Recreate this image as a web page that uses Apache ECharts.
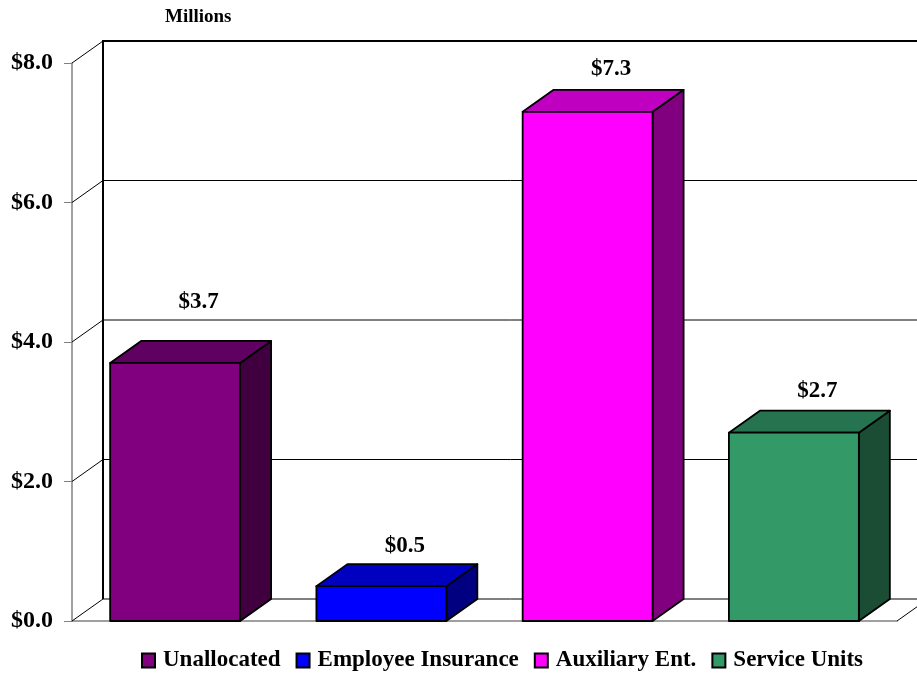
<!DOCTYPE html>
<html>
<head>
<meta charset="utf-8">
<script src="https://cdn.jsdelivr.net/npm/echarts@6/dist/echarts.min.js"></script>
<style>
html,body{margin:0;padding:0;background:#fff;}
#chart{width:917px;height:674px;}
</style>
</head>
<body>
<div id="chart"></div>
<script>
// ---- data ----
const categories = ['Unallocated', 'Employee Insurance', 'Auxiliary Ent.', 'Service Units'];
const seriesValues = [3.7, 0.5, 7.3, 2.7];
const yTicks = [0, 2, 4, 6, 8];
const unitLabel = 'Millions';

// ---- styling ----
const FONT = '"Liberation Serif", "Times New Roman", serif';
const DX = 31, DY = -22;          // 3D depth offset
const BAR_RATIO = 0.63;
const faceColors = [
  { front: '#800080', top: '#600060', side: '#400040' },
  { front: '#0000FF', top: '#0000C0', side: '#000080' },
  { front: '#FF00FF', top: '#C000C0', side: '#800080' },
  { front: '#339966', top: '#267350', side: '#1A4D33' }
];
const labelLift = [39, 18, 21, 20];
const fmt = v => '$' + v.toFixed(1);

const chart = echarts.init(document.getElementById('chart'), null, { renderer: 'canvas' });

function renderBackground(params, api) {
  const cs = params.coordSys;
  const v = api.value(1);
  const y = api.coord([0, v])[1];
  const x0 = cs.x, x1 = cs.x + cs.width;
  const children = [];
  const isTop = v === yTicks[yTicks.length - 1];
  children.push({ type: 'line', shape: { x1: x0, y1: y, x2: x0 + DX, y2: y + DY }, style: { stroke: '#000', lineWidth: 1 } });
  children.push({ type: 'line', shape: { x1: x0 + DX, y1: y + DY, x2: x1 + DX + 40, y2: y + DY }, style: { stroke: '#000', lineWidth: isTop ? 2 : 1 } });
  if (v === 0) {
    children.push({ type: 'line', shape: { x1: x1, y1: y, x2: x1 + DX, y2: y + DY }, style: { stroke: '#000', lineWidth: 1 } });
    const yTop = api.coord([0, yTicks[yTicks.length - 1]])[1];
    children.push({ type: 'line', shape: { x1: x0 + DX, y1: y + DY, x2: x0 + DX, y2: yTop + DY - 1 }, style: { stroke: '#000', lineWidth: 2 } });
  }
  return { type: 'group', children: children };
}

function makeBarRenderer(ci) {
  return function (params, api) {
    const idx = api.value(0), v = api.value(1);
    const base = api.coord([idx, 0]);
    const top = api.coord([idx, v]);
    const bw = api.size([1, 0])[0] * BAR_RATIO;
    const xl = base[0] - bw / 2, xr = base[0] + bw / 2;
    const yb = base[1], yt = top[1];
    const c = faceColors[ci];
    const stroke = { stroke: '#000', lineWidth: 1.8, lineJoin: 'round' };
    return {
      type: 'group',
      children: [
        { type: 'polygon', shape: { points: [[xr, yb], [xr + DX, yb + DY], [xr + DX, yt + DY], [xr, yt]] }, style: Object.assign({ fill: c.side }, stroke) },
        { type: 'polygon', shape: { points: [[xl, yt], [xl + DX, yt + DY], [xr + DX, yt + DY], [xr, yt]] }, style: Object.assign({ fill: c.top }, stroke) },
        { type: 'rect', shape: { x: xl, y: yt, width: bw, height: yb - yt }, style: Object.assign({ fill: c.front }, stroke) },
        { type: 'text', x: base[0] + DX / 2 + 8, y: yt + DY - labelLift[ci],
          style: { text: fmt(v), fill: '#000', font: 'bold 23px ' + FONT, align: 'center', verticalAlign: 'middle' } }
      ]
    };
  };
}

const series = [{
  type: 'custom',
  name: '__bg',
  silent: true,
  renderItem: renderBackground,
  data: yTicks.map(v => [0, v]),
  z: 1
}];
categories.forEach((name, i) => {
  series.push({
    type: 'custom',
    name: name,
    renderItem: makeBarRenderer(i),
    itemStyle: { color: faceColors[i].front, borderColor: '#000', borderWidth: 1.5 },
    data: [[i, seriesValues[i]]],
    z: 5
  });
});

chart.setOption({
  animation: false,
  backgroundColor: '#fff',
  title: {
    text: unitLabel, left: 160, top: 3,
    textStyle: { fontFamily: FONT, fontWeight: 'bold', fontSize: 19, color: '#000' }
  },
  legend: {
    data: categories,
    left: 136, top: 644,
    icon: 'rect', itemWidth: 13, itemHeight: 14, itemGap: 15,
    textStyle: { fontFamily: FONT, fontWeight: 'bold', fontSize: 23, color: '#000', padding: [0, 0, 0, 3] }
  },
  grid: { left: 72, right: 20, top: 63, bottom: 53, containLabel: false },
  xAxis: {
    type: 'category', data: categories,
    axisLabel: { show: false }, axisTick: { show: false },
    axisLine: { show: true, lineStyle: { color: '#808080', width: 1.5 } },
    splitLine: { show: false }
  },
  yAxis: {
    type: 'value', min: 0, max: 8, interval: 2,
    axisLine: { show: true, lineStyle: { color: '#808080', width: 1.5 } },
    axisTick: { show: true, length: 8, lineStyle: { color: '#808080' } },
    splitLine: { show: false },
    axisLabel: { formatter: v => fmt(v), margin: 19, color: '#000', padding: [4, 0, 0, 0],
      fontFamily: FONT, fontWeight: 'bold', fontSize: 24 }
  },
  series: series
});
</script>
</body>
</html>
